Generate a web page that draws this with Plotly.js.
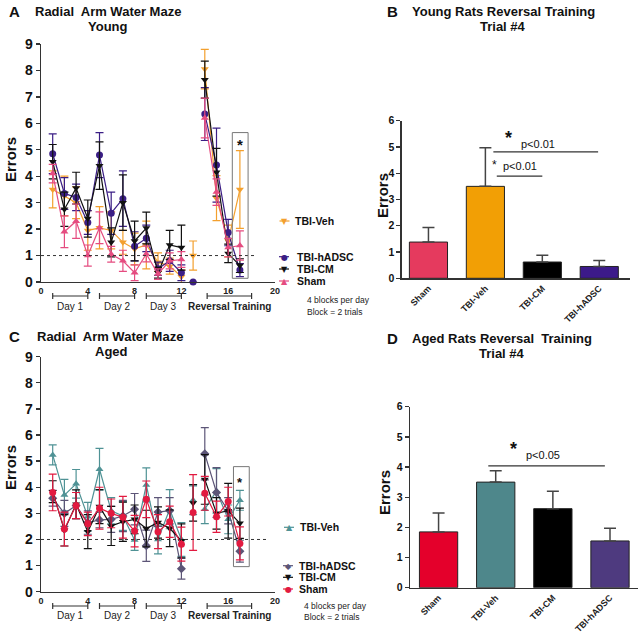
<!DOCTYPE html>
<html><head><meta charset="utf-8">
<script src="https://cdn.plot.ly/plotly-3.0.1.min.js"></script>
<style>html,body{margin:0;padding:0;background:#fff}#chart{width:640px;height:634px}</style>
</head><body><div id="chart"></div>
<script>
// ---------- DATA ----------
const blocks = [1,2,3,4,5,6,7,8,9,10,11,12,13,14,15,16,17];

// Young (panel A)
const youngVeh      = [3.5,3.25,3.0,1.95,2.05,1.95,1.5,1.25,1.4,0.75,0.6,0.2,1.0,8.05,3.17,1.55,3.5];
const youngVehSem   = [0.7,0.75,0.6,0.75,0.8,0.7,0.45,0.6,0.9,0.35,0.3,0.25,0.55,0.75,0.85,0.6,1.47];
const youngHadsc    = [4.85,3.35,3.2,2.25,4.8,2.6,3.15,1.35,1.65,0.5,0.8,0.35,0,6.35,4.42,1.87,0.45];
const youngHadscSem = [0.75,0.6,0.5,0.45,0.85,0.8,1.05,0.55,0.5,0.25,0.4,0.3,0,1.0,1.4,0.5,0.25];
const youngCm       = [4.55,2.75,3.55,2.4,4.4,1.5,3.0,1.55,2.04,0.35,1.4,1.3,null,7.65,4.15,1.08,0.62];
const youngCmSem    = [0.65,0.65,0.6,0.7,0.9,0.55,1.05,0.75,0.6,0.2,0.55,0.85,null,0.7,0.9,0.35,0.26];
const youngSham     = [4.1,1.9,2.3,1.0,2.05,1.05,0.8,0.35,1.06,0.3,0.8,0.85,null,6.2,3.4,1.3,1.38];
const youngShamSem  = [0.35,0.6,0.65,0.4,0.6,0.3,0.4,0.3,0.3,0.2,0.3,0.3,null,0.75,0.5,0.35,0.55];

// Aged (panel C)
const agedVeh      = [5.24,3.7,4.13,2.87,4.69,3.1,2.9,1.98,4.09,2.0,3.16,2.0,3.5,3.16,3.86,2.77,3.5];
const agedVehSem   = [0.38,0.6,0.55,0.55,0.8,0.5,0.55,0.4,0.65,0.55,0.75,0.65,0.55,0.55,0.85,0.55,0.38];
const agedHadsc    = [3.58,3.0,3.3,2.65,2.75,2.77,2.9,3.16,1.76,3.05,3.1,0.88,null,5.28,3.8,3.1,1.55];
const agedHadscSem = [0.3,0.5,0.5,0.45,0.3,0.5,0.6,0.6,0.6,0.55,0.5,0.4,null,1.0,0.95,0.5,0.42];
const agedCm       = [3.83,2.35,3.35,2.3,3.26,2.52,2.68,2.77,2.42,2.65,2.43,1.95,3.4,4.3,3.0,3.1,2.62];
const agedCmSem    = [0.42,0.6,0.55,0.65,0.65,0.75,0.75,0.55,0.7,0.6,0.7,0.65,0.7,0.95,0.6,1.05,0.58];
const agedSham     = [3.8,2.4,3.3,2.6,3.2,3.0,2.85,2.32,3.54,2.3,2.68,1.82,3.03,3.77,2.87,3.45,1.85];
const agedShamSem  = [0.7,0.65,0.5,0.45,0.8,0.55,0.8,0.6,0.7,0.65,0.6,0.65,1.45,0.65,0.6,0.55,0.63];

// Bars (panels B, D)
const barGroups    = ['Sham','TBI-Veh','TBI-CM','TBI-hADSC'];
const youngBar     = [1.38,3.5,0.62,0.45];
const youngBarSem  = [0.55,1.47,0.26,0.23];
const agedBar      = [1.85,3.5,2.62,1.55];
const agedBarSem   = [0.63,0.38,0.58,0.42];

const xTicks = [0,4,8,12,16,20];
const days = [
  {label:'Day 1', from:1, to:4, bold:false},
  {label:'Day 2', from:5, to:8, bold:false},
  {label:'Day 3', from:9, to:12, bold:false},
  {label:'Reversal Training', from:14.2, to:18, bold:true}
];

// ---------- HELPERS ----------
const F = 'Liberation Sans, Arial, sans-serif';
const W = 640, H = 634;
const px = v => v / W;
const py = v => 1 - v / H;
const GAP_BLOCK = 13;

function seriesTraces(name, vals, sem, color, symbol, xa, ya) {
  const yLine = vals.map((v,i) => blocks[i] === GAP_BLOCK ? null : v);
  const eLine = sem.map((v,i) => blocks[i] === GAP_BLOCK ? null : v);
  const out = [{
    type:'scatter', mode:'lines+markers', name:name, x:blocks, y:yLine,
    xaxis:xa, yaxis:ya, showlegend:false, cliponaxis:false,
    line:{color:color, width:1.2},
    marker:{color:color, symbol:symbol, size:7},
    error_y:{type:'data', array:eLine, visible:true, color:color, thickness:1.2, width:4}
  }];
  const i13 = blocks.indexOf(GAP_BLOCK);
  if (vals[i13] !== null) {
    out.push({
      type:'scatter', mode:'markers', name:name, x:[blocks[i13]], y:[vals[i13]],
      xaxis:xa, yaxis:ya, showlegend:false, cliponaxis:false,
      marker:{color:color, symbol:symbol, size:7},
      error_y:{type:'data', array:[sem[i13]], visible:true, color:color, thickness:1.2, width:4}
    });
  }
  return out;
}

const C = {
  yVeh:'#F3A02E', yHadsc:'#3B1E85', yCm:'#111111', ySham:'#E54C80',
  aVeh:'#4F9295', aHadsc:'#5C5577', aCm:'#111111', aSham:'#E21A40'
};

let traces = [];
traces = traces.concat(seriesTraces('TBI-Veh', youngVeh, youngVehSem, C.yVeh, 'triangle-down', 'x', 'y'));
traces = traces.concat(seriesTraces('TBI-hADSC', youngHadsc, youngHadscSem, C.yHadsc, 'circle', 'x', 'y'));
traces = traces.concat(seriesTraces('TBI-CM', youngCm, youngCmSem, C.yCm, 'triangle-down', 'x', 'y'));
traces = traces.concat(seriesTraces('Sham', youngSham, youngShamSem, C.ySham, 'triangle-up', 'x', 'y'));

traces = traces.concat(seriesTraces('TBI-Veh', agedVeh, agedVehSem, C.aVeh, 'triangle-up', 'x3', 'y3'));
traces = traces.concat(seriesTraces('TBI-hADSC', agedHadsc, agedHadscSem, C.aHadsc, 'diamond', 'x3', 'y3'));
traces = traces.concat(seriesTraces('TBI-CM', agedCm, agedCmSem, C.aCm, 'triangle-down', 'x3', 'y3'));
traces = traces.concat(seriesTraces('Sham', agedSham, agedShamSem, C.aSham, 'circle', 'x3', 'y3'));

traces.push({
  type:'bar', x:barGroups, y:youngBar, xaxis:'x2', yaxis:'y2', showlegend:false, width:0.67,
  marker:{color:['#E53A5E','#F29F05','#000000','#3C1A8A'], line:{color:'#222', width:1}},
  error_y:{type:'data', symmetric:false, array:youngBarSem, arrayminus:youngBarSem.map(()=>0), color:'#444', thickness:1.5, width:6}
});
traces.push({
  type:'bar', x:barGroups, y:agedBar, xaxis:'x4', yaxis:'y4', showlegend:false, width:0.67,
  marker:{color:['#E4002B','#4E878B','#000000','#4E3A7F'], line:{color:'#222', width:1}},
  error_y:{type:'data', symmetric:false, array:agedBarSem, arrayminus:agedBarSem.map(()=>0), color:'#444', thickness:1.5, width:6}
});

// ---------- AXES ----------
const yStyle = (extra) => Object.assign({
  showline:true, linecolor:'#333', linewidth:1.3, ticks:'outside', ticklen:4, tickwidth:1.3, tickcolor:'#333',
  showgrid:false, zeroline:false, fixedrange:true
}, extra);
const lineX = (dom, anchor) => ({
  domain:dom, anchor:anchor, range:[0,20], tickvals:xTicks, ticks:'', showline:true, linecolor:'#333', linewidth:1.3,
  showgrid:false, zeroline:false, tickfont:{family:F, size:9, weight:'bold', color:'#222'}
});
const barX = (dom, anchor, range) => ({
  domain:dom, anchor:anchor, type:'category', range:range, tickangle:-45, ticks:'', showline:true,
  linecolor:'#333', linewidth:1.3, showgrid:false, zeroline:false,
  tickfont:{family:F, size:9, weight:'bold', color:'#222'}
});

const layout = {
  width:W, height:H, margin:{l:0,r:0,t:0,b:0}, paper_bgcolor:'#fff', plot_bgcolor:'rgba(0,0,0,0)',
  font:{family:F, color:'#111'}, showlegend:false,
  xaxis: lineX([px(41), px(275)], 'y'),
  yaxis: yStyle({domain:[py(282), py(44)], anchor:'x', range:[0,9], dtick:1, tickfont:{family:F, size:14, weight:'bold', color:'#111'}}),
  xaxis3: lineX([px(41), px(275)], 'y3'),
  yaxis3: yStyle({domain:[py(591.7), py(356.7)], anchor:'x3', range:[0,9], dtick:1, tickfont:{family:F, size:14, weight:'bold', color:'#111'}}),
  xaxis2: barX([px(401.7), px(630)], 'y2', [-0.47, 3.54]),
  yaxis2: yStyle({domain:[py(278.3), py(120.7)], anchor:'x2', range:[0,6], dtick:1, tickfont:{family:F, size:10.5, weight:'bold', color:'#111'}}),
  xaxis4: barX([px(410), px(638)], 'y4', [-0.5, 3.49]),
  yaxis4: yStyle({domain:[py(587.7), py(406.7)], anchor:'x4', range:[0,6], dtick:1, tickfont:{family:F, size:10.5, weight:'bold', color:'#111'}}),
  shapes:[], annotations:[]
};

// ---------- SHAPES ----------
function refLine(xa, ya, x1, yv) {
  layout.shapes.push({type:'line', xref:xa, yref:ya, x0:0, x1:x1, y0:yv, y1:yv, line:{color:'#333', width:1, dash:'dot'}});
}
refLine('x','y',18.3,1);
refLine('x3','y3',19.4,2);

layout.shapes.push({type:'rect', xref:'x', yref:'y', x0:16.35, x1:17.7, y0:0.14, y1:5.65, line:{color:'#777', width:1}});
layout.shapes.push({type:'rect', xref:'x3', yref:'y3', x0:16.45, x1:17.8, y0:0.96, y1:4.79, line:{color:'#777', width:1}});

function brackets(xa, yPix, labelPix) {
  days.forEach(d => {
    layout.shapes.push({type:'line', xref:xa, yref:'paper', x0:d.from, x1:d.to, y0:py(yPix), y1:py(yPix), line:{color:'#333', width:1.2}});
    [d.from, d.to].forEach(xx => layout.shapes.push({type:'line', xref:xa, yref:'paper', x0:xx, x1:xx, y0:py(yPix-3), y1:py(yPix+3), line:{color:'#333', width:1.2}}));
    layout.annotations.push({xref:xa, yref:'paper', x:(d.from+d.to)/2, y:py(labelPix), text:d.label, showarrow:false,
      xanchor:'center', yanchor:'middle', font:{family:F, size:10, weight:d.bold?'bold':'normal', color:'#222'}});
  });
}
brackets('x', 296, 306.5);
brackets('x3', 606, 615.5);

// significance lines in bar charts
layout.shapes.push({type:'line', xref:'x2', yref:'y2', x0:1.14, x1:2.98, y0:4.81, y1:4.81, line:{color:'#333', width:1.2}});
layout.shapes.push({type:'line', xref:'x2', yref:'y2', x0:1.2, x1:2.0, y0:3.89, y1:3.89, line:{color:'#333', width:1.2}});
layout.shapes.push({type:'line', xref:'x4', yref:'y4', x0:0.87, x1:2.91, y0:4.04, y1:4.04, line:{color:'#333', width:1.2}});

// ---------- TEXT ----------
function txt(text, x, y, size, bold, opts) {
  layout.annotations.push(Object.assign({xref:'paper', yref:'paper', x:px(x), y:py(y), text:text, showarrow:false,
    xanchor:'center', yanchor:'middle', font:{family:F, size:size, weight:bold?'bold':'normal', color:'#111'}}, opts||{}));
}

// legend keys (line + marker glyph + label)
const legendKeys = [
  {name:'TBI-Veh',   color:C.yVeh,   glyph:'\u25BC', cx:284.5, tx:293, y:221},
  {name:'TBI-hADSC', color:C.yHadsc, glyph:'\u25CF', cx:284,   tx:295, y:256.7},
  {name:'TBI-CM',    color:C.yCm,    glyph:'\u25BC', cx:284,   tx:295, y:269},
  {name:'Sham',      color:C.ySham,  glyph:'\u25B2', cx:284,   tx:295, y:281},
  {name:'TBI-Veh',   color:C.aVeh,   glyph:'\u25B2', cx:289,   tx:298, y:527.3},
  {name:'TBI-hADSC', color:C.aHadsc, glyph:'\u25C6', cx:288,   tx:297, y:565.7},
  {name:'TBI-CM',    color:C.aCm,    glyph:'\u25BC', cx:288,   tx:297, y:577.3},
  {name:'Sham',      color:C.aSham,  glyph:'\u25CF', cx:288,   tx:297, y:589}
];
legendKeys.forEach(k => {
  layout.shapes.push({type:'line', xref:'paper', yref:'paper', x0:px(k.cx-5), x1:px(k.cx+5), y0:py(k.y), y1:py(k.y), line:{color:k.color, width:1.2}});
  layout.annotations.push({xref:'paper', yref:'paper', x:px(k.cx), y:py(k.y+0.5), text:k.glyph, showarrow:false,
    xanchor:'center', yanchor:'middle', font:{family:'DejaVu Sans', size:8, color:k.color}});
  txt(k.name, k.tx, k.y, 10.5, true, {xanchor:'left'});
});

txt('A', 14, 11, 15, true);
txt('Radial\u00A0 Arm Water Maze', 108, 11, 13, true);
txt('Young', 108, 27, 13, true);
txt('Errors', 10, 160, 15, true, {textangle:-90});
txt('4 blocks per day', 305, 300, 8.5, false, {xanchor:'left', font:{family:F, size:8.5, color:'#222'}});
txt('Block = 2 trials', 305, 312, 8.5, false, {xanchor:'left', font:{family:F, size:8.5, color:'#222'}});

txt('C', 14, 336, 15, true);
txt('Radial\u00A0 Arm Water Maze', 110, 336, 13, true);
txt('Aged', 111, 351.7, 13, true);
txt('Errors', 10, 468, 15, true, {textangle:-90});
txt('4 blocks per day', 302, 606, 8.5, false, {xanchor:'left', font:{family:F, size:8.5, color:'#222'}});
txt('Block = 2 trials', 302, 617, 8.5, false, {xanchor:'left', font:{family:F, size:8.5, color:'#222'}});

txt('B', 392.7, 11, 15, true);
txt('Young Rats Reversal Training', 503, 11, 13, true);
txt('Trial #4', 503, 27, 13, true);
txt('Errors', 382, 196, 15, true, {textangle:-90});
txt('*', 508.3, 138, 18, true);
txt('p<0.01', 538.3, 144, 11, false);
txt('*', 494.3, 165, 12, false);
txt('p<0.01', 520, 165.7, 11, false);

txt('D', 392.7, 338, 15, true);
txt('Aged Rats Reversal\u00A0 Training', 502, 338, 13, true);
txt('Trial #4', 502, 353.3, 13, true);
txt('Errors', 384, 493, 15, true, {textangle:-90});
txt('*', 513.3, 449, 18, true);
txt('p<0.05', 543.3, 455, 11, false);

layout.annotations.push({xref:'x', yref:'y', x:17, y:5.2, text:'*', showarrow:false, font:{family:F, size:15, weight:'bold', color:'#111'}});
layout.annotations.push({xref:'x3', yref:'y3', x:17, y:4.2, text:'*', showarrow:false, font:{family:F, size:13, weight:'bold', color:'#111'}});

Plotly.newPlot('chart', traces, layout, {staticPlot:true, displayModeBar:false});
</script>
</body></html>
